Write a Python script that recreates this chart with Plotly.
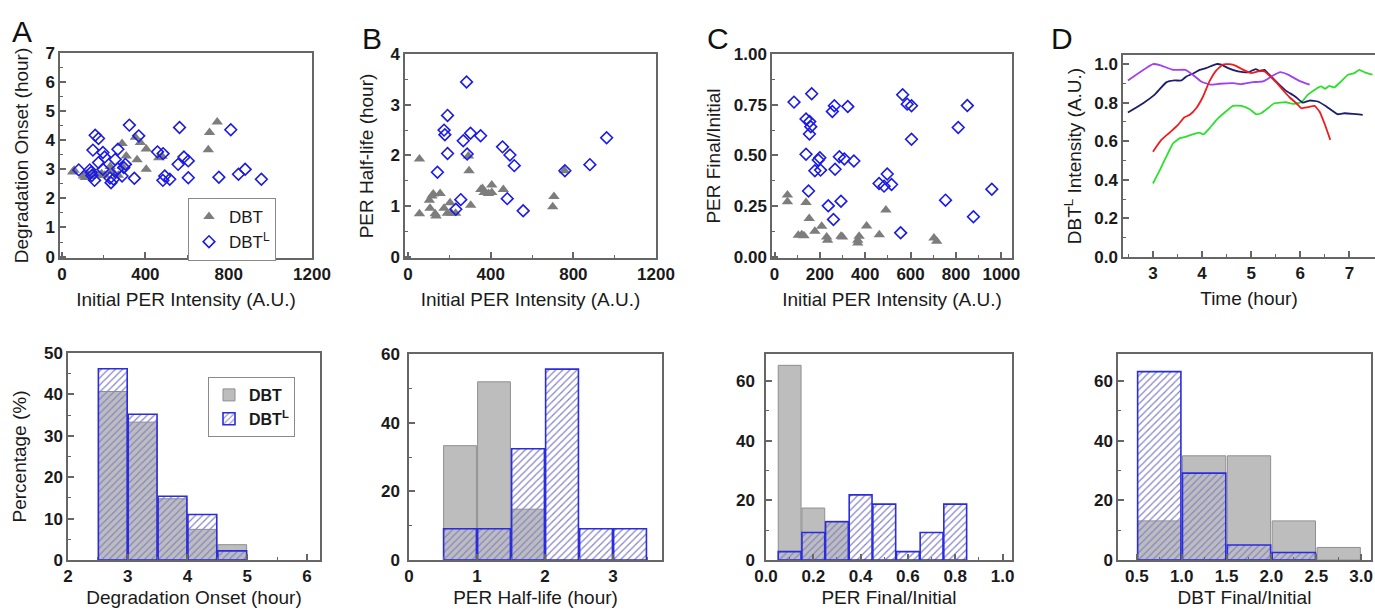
import plotly.graph_objects as go

# ---------------- data ----------------
# Panel A (top): initial PER intensity vs degradation onset
a_dbt_x = [51, 58, 103, 111, 120, 135, 150, 175, 190, 205, 231, 240, 270, 290, 288, 308, 352, 360, 376, 404, 404, 464, 480, 702, 708, 745]
a_dbt_y = [2.91, 2.97, 2.77, 2.72, 2.85, 2.75, 2.9, 2.8, 2.85, 2.8, 3.1, 2.95, 2.8, 3.1, 3.89, 3.46, 4.1, 3.33, 3.92, 3.7, 3.0, 3.4, 3.45, 3.67, 4.27, 4.63]
a_dbtl_x = [80, 133, 159, 175, 148, 196, 143, 156, 175, 196, 204, 235, 247, 255, 268, 267, 288, 304, 296, 323, 347, 368, 458, 485, 493, 484, 517, 564, 557, 585, 606, 606, 753, 810, 847, 879, 957, 140, 230]
a_dbtl_y = [2.98, 2.98, 4.17, 4.06, 3.66, 3.58, 2.79, 2.62, 3.23, 3.0, 3.42, 2.54, 2.66, 3.34, 3.69, 3.02, 2.77, 3.17, 3.06, 4.52, 2.69, 4.15, 3.6, 3.54, 2.77, 2.62, 2.66, 4.44, 3.17, 3.42, 3.29, 2.71, 2.73, 4.36, 2.83, 3.0, 2.66, 2.9, 2.7]

# Panel B (top): initial PER intensity vs half-life
b_dbt_x = [55, 55, 103, 122, 155, 106, 131, 135, 174, 190, 203, 210, 230, 292, 295, 303, 352, 368, 389, 405, 405, 461, 706, 700, 757, 115, 360]
b_dbt_y = [1.93, 0.85, 1.12, 1.24, 1.25, 0.96, 0.85, 0.81, 0.96, 0.86, 1.07, 0.86, 0.86, 1.99, 1.70, 1.02, 1.33, 1.27, 1.25, 1.42, 1.27, 1.33, 1.19, 0.99, 1.70, 1.2, 1.35]
b_dbtl_x = [283, 191, 174, 178, 191, 142, 302, 267, 351, 286, 255, 231, 457, 493, 514, 480, 557, 759, 880, 961]
b_dbtl_y = [3.45, 2.79, 2.50, 2.41, 2.04, 1.67, 2.44, 2.29, 2.39, 2.03, 1.13, 0.94, 2.17, 2.01, 1.80, 1.15, 0.91, 1.70, 1.82, 2.35]

# Panel C (top): initial PER intensity vs final/initial
c_dbt_x = [57, 57, 139, 153, 105, 120, 130, 178, 208, 230, 234, 300, 367, 373, 406, 462, 491, 703, 715, 367, 293]
c_dbt_y = [0.305, 0.272, 0.269, 0.19, 0.107, 0.11, 0.104, 0.127, 0.152, 0.099, 0.082, 0.099, 0.082, 0.102, 0.153, 0.11, 0.231, 0.094, 0.077, 0.069, 0.102]
c_dbtl_x = [86, 164, 139, 155, 160, 154, 139, 150, 200, 193, 203, 178, 237, 255, 264, 267, 260, 286, 293, 308, 323, 350, 461, 483, 497, 516, 556, 565, 585, 604, 604, 754, 810, 850, 877, 958]
c_dbtl_y = [0.763, 0.804, 0.680, 0.667, 0.642, 0.606, 0.506, 0.325, 0.489, 0.478, 0.428, 0.425, 0.252, 0.717, 0.745, 0.432, 0.185, 0.494, 0.275, 0.483, 0.741, 0.473, 0.362, 0.349, 0.409, 0.357, 0.119, 0.799, 0.753, 0.745, 0.580, 0.280, 0.638, 0.746, 0.198, 0.334]

# Panel D (top): DBT^L intensity traces
d_purple_t = [2.49, 3.0, 3.14, 3.41, 3.66, 3.81, 3.98, 4.17, 4.36, 4.63, 4.80, 5.03, 5.24, 5.44, 5.59, 5.75, 5.98, 6.19]
d_purple_y = [0.915, 1.0, 0.995, 0.97, 0.97, 0.945, 0.91, 0.893, 0.898, 0.901, 0.896, 0.906, 0.91, 0.94, 0.958, 0.945, 0.913, 0.893]
d_navy_t = [2.49, 2.80, 3.03, 3.27, 3.44, 3.58, 3.68, 3.81, 3.95, 4.08, 4.29, 4.39, 4.53, 4.73, 4.93, 5.09, 5.17, 5.27, 5.37, 5.54, 5.71, 5.85, 5.92, 6.05, 6.19, 6.36, 6.53, 6.76, 6.90, 7.07, 7.27]
d_navy_y = [0.749, 0.797, 0.84, 0.905, 0.915, 0.915, 0.936, 0.95, 0.97, 0.979, 1.0, 0.997, 0.979, 0.962, 0.957, 0.974, 0.965, 0.97, 0.945, 0.901, 0.861, 0.84, 0.827, 0.80, 0.811, 0.806, 0.78, 0.74, 0.745, 0.742, 0.737]
d_red_t = [3.0, 3.17, 3.34, 3.51, 3.64, 3.75, 3.88, 4.02, 4.15, 4.29, 4.42, 4.56, 4.69, 4.84, 5.0, 5.14, 5.27, 5.37, 5.51, 5.64, 5.78, 5.92, 6.02, 6.15, 6.29, 6.39, 6.49, 6.61]
d_red_y = [0.546, 0.607, 0.645, 0.685, 0.724, 0.737, 0.771, 0.832, 0.91, 0.967, 0.997, 1.0, 0.991, 0.97, 0.953, 0.962, 0.962, 0.94, 0.905, 0.867, 0.828, 0.797, 0.771, 0.776, 0.783, 0.754, 0.693, 0.607]
d_green_t = [3.0, 3.14, 3.27, 3.41, 3.54, 3.68, 3.81, 3.94, 4.03, 4.15, 4.29, 4.46, 4.63, 4.80, 4.97, 5.10, 5.20, 5.34, 5.47, 5.71, 5.85, 6.02, 6.15, 6.31, 6.42, 6.51, 6.59, 6.69, 6.83, 6.97, 7.10, 7.20, 7.31, 7.47]
d_green_y = [0.381, 0.45, 0.52, 0.589, 0.615, 0.624, 0.636, 0.645, 0.636, 0.667, 0.71, 0.749, 0.783, 0.783, 0.766, 0.74, 0.745, 0.771, 0.797, 0.802, 0.794, 0.802, 0.84, 0.87, 0.884, 0.872, 0.887, 0.879, 0.91, 0.945, 0.953, 0.97, 0.957, 0.945]

# Bottom histograms (percentage)
ha_bins = [2.75, 3.25, 3.75, 4.25, 4.75]
ha_dbt = [40.7, 33.3, 14.8, 7.4, 3.7]
ha_dbtl = [46.2, 35.2, 15.4, 11.0, 2.2]

hb_bins = [0.75, 1.25, 1.75, 2.25, 2.75, 3.25]
hb_dbt = [33.3, 51.9, 14.8, None, None, None]
hb_dbtl = [9.1, 9.1, 32.4, 55.6, 9.1, 9.1]

hc_bins = [0.1, 0.2, 0.3, 0.4, 0.5, 0.6, 0.7, 0.8]
hc_dbt = [65.2, 17.4, 13.0, None, None, None, None, None]
hc_dbtl = [2.8, 9.2, 12.8, 21.8, 18.7, 2.8, 9.2, 18.7]

hd_bins = [0.75, 1.25, 1.75, 2.25, 2.75]
hd_dbt = [13.1, 34.9, 34.9, 13.1, 4.2]
hd_dbtl = [63.1, 29.1, 5.0, 2.5, None]

# ---------------- figure ----------------
FONT = "Liberation Sans, Arial, sans-serif"
W, H = 1375, 611
AXC = "#666666"
GRAY_MK = "#7d7d7d"
BLUE = "#1a1ae6"

fig = go.Figure()


def px_x(a, b):
    return [a / W, b / W]


def px_y(top, bottom):
    return [1 - bottom / H, 1 - top / H]


def scatter_pair(n, dx, dy, lx, ly, legend=None, show=False):
    xa, ya = f"x{n}", f"y{n}"
    fig.add_trace(go.Scatter(x=dx, y=dy, mode="markers", name="DBT",
                             marker=dict(symbol="triangle-up", size=10, color=GRAY_MK),
                             xaxis=xa, yaxis=ya, showlegend=show, legend=legend or "legend"))
    fig.add_trace(go.Scatter(x=lx, y=ly, mode="markers", name="DBT<sup>L</sup>",
                             marker=dict(symbol="diamond-open", size=9, color=BLUE, line=dict(width=1.6, color=BLUE)),
                             xaxis=xa, yaxis=ya, showlegend=show, legend=legend or "legend"))


def hist_pair(n, centers, bw, gray, blue, legend=None, show=False):
    xa, ya = f"x{n}", f"y{n}"
    w = [bw * 0.965] * len(centers)
    fig.add_trace(go.Bar(x=centers, y=gray, width=w, name="<b>DBT</b>",
                         marker=dict(color="#bdbdbd", line=dict(color="#8f8f8f", width=1)),
                         xaxis=xa, yaxis=ya, showlegend=show, legend=legend or "legend"))
    fig.add_trace(go.Bar(x=centers, y=blue, width=w, name="<b>DBT<sup>L</sup></b>",
                         marker=dict(color="rgba(0,0,0,0)", line=dict(color="#2b2be0", width=1.6),
                                     pattern=dict(shape="/", fgcolor="#8585c8", bgcolor="rgba(255,255,255,0)",
                                                  size=5, solidity=0.25, fillmode="replace")),
                         xaxis=xa, yaxis=ya, showlegend=show, legend=legend or "legend"))


scatter_pair(1, a_dbt_x, a_dbt_y, a_dbtl_x, a_dbtl_y, legend="legend", show=True)
scatter_pair(2, b_dbt_x, b_dbt_y, b_dbtl_x, b_dbtl_y)
scatter_pair(3, c_dbt_x, c_dbt_y, c_dbtl_x, c_dbtl_y)

for t, y, c in [(d_green_t, d_green_y, "#2ee02e"), (d_navy_t, d_navy_y, "#1c1c70"),
                (d_purple_t, d_purple_y, "#a040f0"), (d_red_t, d_red_y, "#f01c1c")]:
    fig.add_trace(go.Scatter(x=t, y=y, mode="lines", line=dict(color=c, width=1.8, shape="spline", smoothing=0.4),
                             xaxis="x4", yaxis="y4", showlegend=False))

hist_pair(5, ha_bins, 0.5, ha_dbt, ha_dbtl, legend="legend2", show=True)
hist_pair(6, hb_bins, 0.5, hb_dbt, hb_dbtl)
hist_pair(7, hc_bins, 0.1, hc_dbt, hc_dbtl)
hist_pair(8, hd_bins, 0.5, hd_dbt, hd_dbtl)

TICKFONT = dict(family=FONT, size=17, color="#1a1a1a", weight="bold")
TITLEFONT = dict(family=FONT, size=19, color="#1a1a1a")


def axis(domain, rng, dtick, mdtick, anchor, title, standoff, tick0=0):
    d = dict(domain=domain, range=rng, dtick=dtick, tick0=tick0, anchor=anchor,
             showline=True, mirror=True, linecolor=AXC, linewidth=1.5,
             ticks="inside", ticklen=6, tickwidth=1.5, tickcolor=AXC,
             minor=dict(ticks="inside", ticklen=3, tickwidth=1.2, tickcolor=AXC, dtick=mdtick, tick0=tick0),
             showgrid=False, zeroline=False, automargin=False,
             tickfont=TICKFONT)
    if title:
        d["title"] = dict(text=title, font=TITLEFONT, standoff=standoff)
    return d


layout_axes = {
    # top row
    "xaxis": axis(px_x(60, 312), [-10, 1200], 400, 200, "y", "Initial PER Intensity (A.U.)", 10),
    "yaxis": axis(px_y(53, 258), [-0.05, 7.0], 1, 0.5, "x", "Degradation Onset (hour)", 12),
    "xaxis2": axis(px_x(405, 656), [-15, 1200], 400, 200, "y2", "Initial PER Intensity (A.U.)", 10),
    "yaxis2": axis(px_y(54, 258), [-0.02, 4.0], 1, 0.5, "x2", "PER Half-life (hour)", 12),
    "xaxis3": axis(px_x(772, 1012), [-11, 1047], 200, 100, "y3", "Initial PER Intensity (A.U.)", 10),
    "yaxis3": axis(px_y(54, 258), [-0.005, 1.0], 0.25, 0.125, "x3", "PER Final/Initial", 8),
    "xaxis4": axis(px_x(1123, 1375), [2.39, 7.52], 1, 0.5, "y4", "Time (hour)", 10),
    "yaxis4": axis(px_y(55, 257), [0, 1.047], 0.2, 0.1, "x4", "DBT<sup>L</sup> Intensity (A.U.)", 8),
    # bottom row
    "xaxis5": axis(px_x(68, 320), [2, 6.22], 1, 0.5, "y5", "Degradation Onset (hour)", 6),
    "yaxis5": axis(px_y(353, 560), [0, 50], 10, 5, "x5", "Percentage (%)", 12),
    "xaxis6": axis(px_x(409, 662), [0, 3.72], 1, 0.5, "y6", "PER Half-life (hour)", 6),
    "yaxis6": axis(px_y(354, 560), [0, 60], 20, 10, "x6", None, 10),
    "xaxis7": axis(px_x(766, 1012), [0, 1.04], 0.2, 0.1, "y7", "PER Final/Initial", 6),
    "yaxis7": axis(px_y(354, 560), [0, 69], 20, 10, "x7", None, 10),
    "xaxis8": axis(px_x(1118, 1371), [0.29, 3.11], 0.5, 0.25, "y8", "DBT Final/Initial", 6),
    "yaxis8": axis(px_y(354, 560), [0, 69], 20, 10, "x8", None, 10),
}
layout_axes["xaxis5"]["tickformat"] = "d"
layout_axes["xaxis8"]["tickformat"] = ".1f"
layout_axes["xaxis7"]["tickformat"] = ".1f"
layout_axes["yaxis4"]["tickformat"] = ".1f"
layout_axes["yaxis3"]["tickformat"] = ".2f"
layout_axes["yaxis7"]["ticklabelstandoff"] = 6
layout_axes["yaxis6"]["ticklabelstandoff"] = 4

annotations = []
for letter, x, y in [("A", 22, 32), ("B", 372, 38), ("C", 718, 38), ("D", 1062, 38)]:
    annotations.append(dict(text=letter, x=x / W, y=1 - y / H, xref="paper", yref="paper",
                            showarrow=False, xanchor="center", yanchor="middle",
                            font=dict(family=FONT, size=30, color="#111111")))

fig.update_layout(
    template="none",
    width=W, height=H,
    margin=dict(l=0, r=0, t=0, b=0),
    paper_bgcolor="white", plot_bgcolor="white",
    barmode="overlay",
    font=dict(family=FONT, color="#1a1a1a"),
    annotations=annotations,
    legend=dict(x=188 / W, y=1 - 198 / H, xanchor="left", yanchor="top",
                bordercolor="#8a8a8a", borderwidth=1, bgcolor="white",
                font=dict(family=FONT, size=17, color="#1a1a1a"), tracegroupgap=0),
    legend2=dict(x=208 / W, y=1 - 377 / H, xanchor="left", yanchor="top",
                 bordercolor="#8a8a8a", borderwidth=1, bgcolor="white",
                 font=dict(family=FONT, size=16, color="#1a1a1a"), tracegroupgap=0),
    **layout_axes,
)

fig.write_html("out.html")
